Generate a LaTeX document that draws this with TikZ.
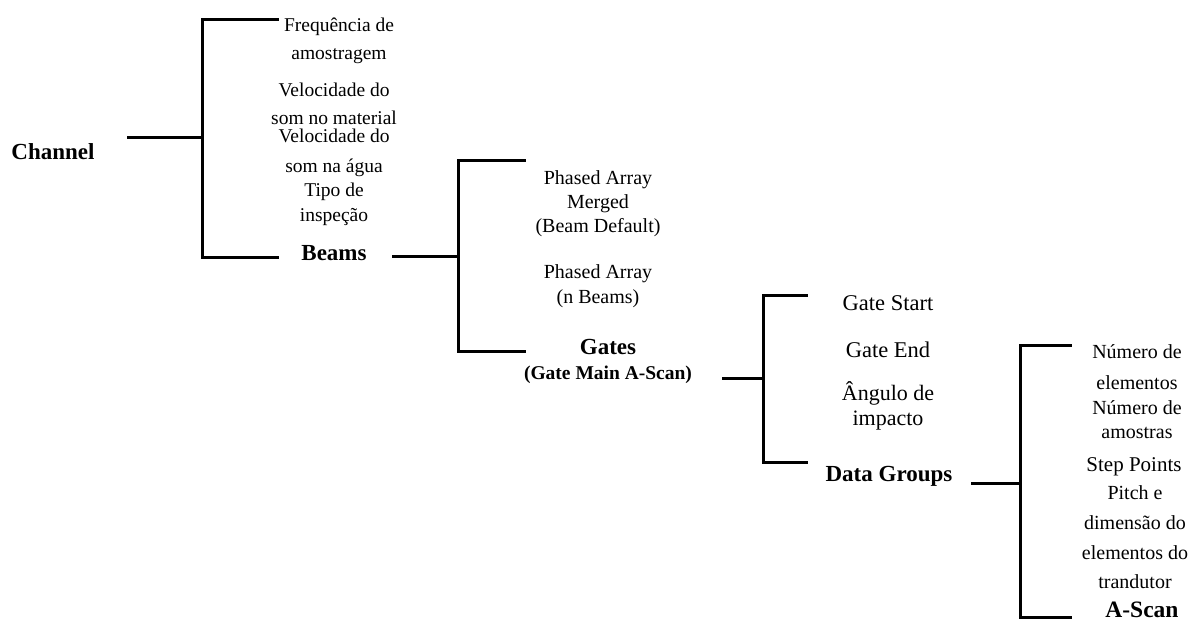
\documentclass[tikz,border=0pt]{standalone}
\usepackage{fontspec}
\setmainfont{Liberation Serif}
\begin{document}
\begin{tikzpicture}[x=1pt,y=-1pt,
  lbl/.style={inner sep=0pt,align=center,font=\fontsize{19.5}{28}\selectfont},
  ttl/.style={inner sep=0pt,align=center,font=\fontsize{23}{28}\selectfont\bfseries},
  brk/.style={line width=3pt,line cap=rect}]
\useasboundingbox (0,0) rectangle (1191,623);
% column 1
\node[ttl] (channel) at (53,152) {Channel};
\node[lbl] (f1) at (339,41) {Frequência de\\amostragem};
\node[lbl] (f2) at (334,104) {Velocidade do\\som no material};
\node[lbl,font=\fontsize{19.5}{30}\selectfont] (f3) at (334,153) {Velocidade do\\som na água};
\node[lbl,font=\fontsize{19.5}{25}\selectfont] (f4) at (334,204.5) {Tipo de\\inspeção};
\node[ttl] (beams) at (334,253) {Beams};
% column 2
\node[lbl,font=\fontsize{20}{24}\selectfont] (p1) at (598,204) {Phased Array\\Merged\\(Beam Default)};
\node[lbl,font=\fontsize{20}{25}\selectfont] (p2) at (598,286.5) {Phased Array\\(n Beams)};
\node[ttl] (gates) at (608,347) {Gates};
\node[ttl,font=\fontsize{19.5}{24}\selectfont\bfseries] (gmain) at (608,375) {(Gate Main A-Scan)};
% column 3
\node[lbl,font=\fontsize{22.5}{28}\selectfont] (gs) at (888,303) {Gate Start};
\node[lbl,font=\fontsize{22.5}{28}\selectfont] (ge) at (888,350) {Gate End};
\node[lbl,font=\fontsize{22}{25}\selectfont] (ang) at (888,405.5) {Ângulo de\\impacto};
\node[ttl] (dg) at (889,476) {Data Groups};
% column 4
\node[lbl,font=\fontsize{20}{31}\selectfont] (n1) at (1137,367.5) {Número de\\elementos};
\node[lbl,font=\fontsize{20}{24}\selectfont] (n2) at (1137,420) {Número de\\amostras};
\node[lbl,font=\fontsize{21}{28}\selectfont] (sp) at (1134,467) {Step Points};
\node[lbl,font=\fontsize{20}{29.7}\selectfont] (pitch) at (1135,537.5) {Pitch e\\dimensão do\\elementos do\\trandutor};
\node[ttl,font=\fontsize{23.5}{28}\selectfont\bfseries] (ascan) at (1142,610) {A-Scan};
% bracket 1
\coordinate (c1s) at (128,138);
\coordinate (c1m) at (202,138);
\coordinate (c1t) at (277,20);
\coordinate (c1b) at (277,257);
\draw[brk] (c1s) -- (c1m);
\draw[brk] (c1t) -| (c1m) |- (c1b);
% bracket 2
\coordinate (c2s) at (393,256);
\coordinate (c2m) at (458,256);
\coordinate (c2t) at (524,160);
\coordinate (c2b) at (524,351);
\draw[brk] (c2s) -- (c2m);
\draw[brk] (c2t) -| (c2m) |- (c2b);
% bracket 3
\coordinate (c3s) at (723,378);
\coordinate (c3m) at (763,378);
\coordinate (c3t) at (806,295);
\coordinate (c3b) at (806,462);
\draw[brk] (c3s) -- (c3m);
\draw[brk] (c3t) -| (c3m) |- (c3b);
% bracket 4
\coordinate (c4s) at (972,483);
\coordinate (c4m) at (1020,483);
\coordinate (c4t) at (1070,345);
\coordinate (c4b) at (1070,617);
\draw[brk] (c4s) -- (c4m);
\draw[brk] (c4t) -| (c4m) |- (c4b);
\end{tikzpicture}
\end{document}
